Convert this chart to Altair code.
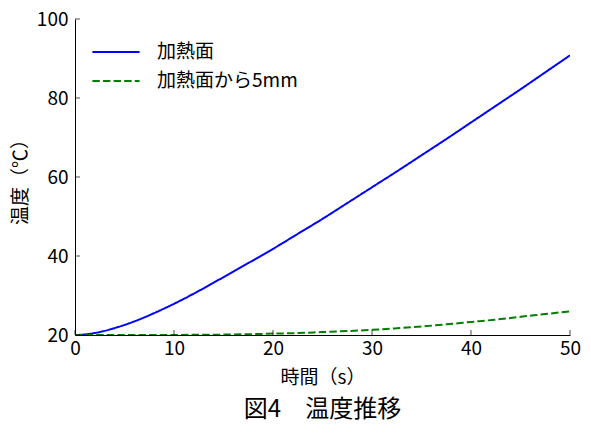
import altair as alt
import pandas as pd

# ---- data ----
t_surface = [0, 1, 2, 3, 4, 5, 6, 7, 8, 9, 10, 12.5, 15, 17.5, 20, 22.5, 25, 27.5, 30, 32.5, 35, 37.5, 40, 42.5, 45, 47.5, 50]
surface = [20.0, 20.15, 20.5, 21.05, 21.75, 22.55, 23.45, 24.45, 25.55, 26.7, 27.9, 31.15, 34.65, 38.2, 41.8, 45.6, 49.4, 53.4,
           57.4, 61.4, 65.5, 69.6, 73.8, 78.0, 82.2, 86.5, 90.8]
t_depth = [0, 2.5, 5, 7.5, 10, 12.5, 15, 17.5, 20, 22.5, 25, 27.5, 30, 32.5, 35, 37.5, 40, 42.5, 45, 47.5, 50]
depth5 = [20.0, 20.0, 20.0, 20.0, 20.02, 20.05, 20.1, 20.2, 20.35, 20.5, 20.75, 21.0, 21.3, 21.7, 22.15, 22.7, 23.3, 23.9, 24.6, 25.3, 26.0]
series_names = ["加熱面", "加熱面から5mm"]
series_colors = ["#0000ff", "#008000"]
x_ticks = [0, 10, 20, 30, 40, 50]
y_ticks = [20, 40, 60, 80, 100]

FONT = "Noto Sans CJK JP"

rows = [{"t": t, "T": v, "s": series_names[0]} for t, v in zip(t_surface, surface)]
rows += [{"t": t, "T": v, "s": series_names[1]} for t, v in zip(t_depth, depth5)]
df = pd.DataFrame(rows)

xs = alt.Scale(domain=[0, 50], nice=False, zero=False)
ys = alt.Scale(domain=[20, 100], nice=False, zero=False)

leg = dict(title=None, orient="none", legendX=25, legendY=17,
           symbolType="M-1.6,0H1.6", symbolSize=870, symbolStrokeWidth=2,
           labelFontSize=19, labelFont=FONT, labelOffset=25,
           rowPadding=3, labelColor="black")

lines = alt.Chart(df).mark_line(strokeWidth=2, clip=True, interpolate="monotone").encode(
    x=alt.X("t:Q", scale=xs, title="時間（s）",
            axis=alt.Axis(values=x_ticks, ticks=False, grid=False, labelPadding=4, labelFlush=False,
                          titlePadding=10, domainColor="black", format="d")),
    y=alt.Y("T:Q", scale=ys, title="温度（℃）",
            axis=alt.Axis(values=y_ticks, ticks=False, grid=False, labelPadding=7, labelFlush=False,
                          titlePadding=6, domainColor="black", format="d")),
    color=alt.Color("s:N", scale=alt.Scale(domain=series_names, range=series_colors),
                    legend=alt.Legend(**leg)),
    strokeDash=alt.StrokeDash("s:N", scale=alt.Scale(domain=series_names, range=[[1, 0], [7.4, 3.2]]),
                              legend=alt.Legend(**leg)),
)

xt = pd.DataFrame({"t": x_ticks, "T": [20] * len(x_ticks)})
yt = pd.DataFrame({"t": [0] * len(y_ticks), "T": y_ticks})

xtick_marks = alt.Chart(xt).mark_tick(orient="vertical", size=5, thickness=1, yOffset=-2.5, color="black").encode(
    x=alt.X("t:Q", scale=xs), y=alt.Y("T:Q", scale=ys))
ytick_marks = alt.Chart(yt).mark_tick(orient="horizontal", size=5, thickness=1, xOffset=2.5, color="black").encode(
    x=alt.X("t:Q", scale=xs), y=alt.Y("T:Q", scale=ys))

chart = alt.layer(lines, xtick_marks, ytick_marks).properties(
    width=495, height=316,
    autosize="none",
    padding={"left": 75, "top": 19, "right": 21, "bottom": 100},
    title=alt.TitleParams("図4　温度推移", orient="bottom", fontSize=24, font=FONT,
                          fontWeight="normal", offset=11, color="black"),
).configure_view(stroke=None).configure_axis(
    labelFont=FONT, titleFont=FONT, labelFontSize=19, titleFontSize=19,
    labelColor="black", titleColor="black", titleFontWeight="normal", domainWidth=1,
)

chart.save("out.html", embed_options={"renderer": "svg", "actions": False})
